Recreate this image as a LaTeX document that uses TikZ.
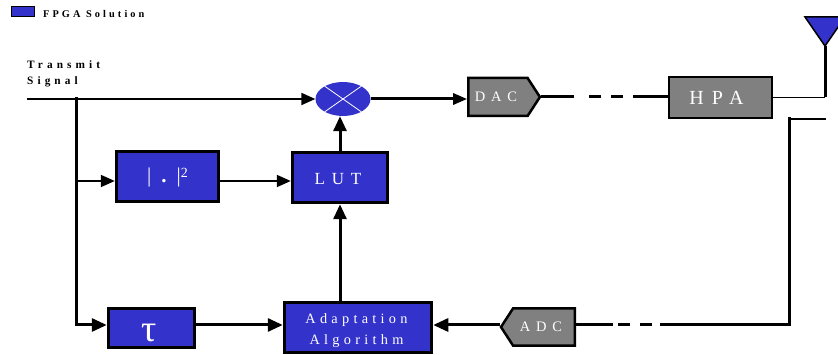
\documentclass[tikz,border=0pt]{standalone}
\usepackage{fontspec}
\setmainfont{Liberation Serif}
\newfontfamily\bigspaced[LetterSpace=40]{Liberation Serif}
\newfontfamily\midspaced[LetterSpace=30]{Liberation Serif}
\newfontfamily\labelspaced[LetterSpace=36]{Liberation Serif}
\usetikzlibrary{arrows.meta,shapes.geometric,shapes.symbols}
\definecolor{fpgablue}{HTML}{3333CC}
\definecolor{convgray}{HTML}{808080}
\tikzset{
  fpgabox/.style={draw=black, line width=3pt, fill=fpgablue, text=white, rectangle, inner sep=0pt, align=center},
  conv/.style={draw=black, line width=2.5pt, fill=convgray, text=white, inner sep=0pt},
  sig/.style={line width=3pt, -{Triangle[length=15pt,width=13pt]}},
  thinsig/.style={line width=2pt, -{Triangle[length=14pt,width=12pt]}},
  wire/.style={line width=3pt},
  toplabel/.style={font=\labelspaced\bfseries\fontsize{11.3pt}{16.5pt}\selectfont, anchor=north west, align=left, inner sep=0pt}
}
\begin{document}
\begin{tikzpicture}[x=1pt, y=-1pt]
  \clip (0,0) rectangle (838,355);

  % legend
  \node[fpgabox, line width=1pt, minimum width=23pt, minimum height=10pt] (legend) at (23,11.5) {};
  \node[anchor=west, inner sep=0pt, font=\midspaced\bfseries\fontsize{10.3pt}{12pt}\selectfont] (legendtext) at (43,14) {FPGA Solution};
  \node[toplabel] (txlabel) at (27,60) {Transmit\\Signal};

  % blocks
  \node[ellipse, fill=fpgablue, minimum width=55pt, minimum height=34pt, inner sep=0pt] (mix) at (343,99) {};
  \draw[white, line width=0.8pt] (mix.35) -- (mix.215);
  \draw[white, line width=0.8pt] (mix.145) -- (mix.325);

  \node[fpgabox, minimum width=102.5pt, minimum height=50pt, font=\fontsize{21pt}{22pt}\selectfont] (square) at (167.5,177) {|\hspace{10pt}\textbf{.}\hspace{10pt}|\raisebox{0.45ex}{\fontsize{14pt}{14pt}\selectfont 2}};
  \node[fpgabox, minimum width=95.5pt, minimum height=50.5pt, font=\bigspaced\fontsize{17pt}{22pt}\selectfont] (lut) at (340,177.5) {\rule{0pt}{15pt}LUT\kern4pt};
  \node[fpgabox, minimum width=86.5pt, minimum height=39.5pt, font=\fontsize{38pt}{40pt}\selectfont] (tau) at (151.5,328) {\rule{0pt}{28pt}τ\kern5pt};
  \node[fpgabox, minimum width=147.5pt, minimum height=50.5pt, font=\midspaced\fontsize{14.3pt}{21pt}\selectfont] (alg) at (358,327.5) {\rule{0pt}{16pt}Adaptation\kern3pt\\Algorithm\kern3pt};

  \node[conv, signal, signal to=east, signal pointer angle=114, minimum width=71.5pt, minimum height=38pt, font=\bigspaced\fontsize{14.5pt}{16pt}\selectfont] (dac) at (498,97) {DAC\kern4pt};
  \node[conv, signal, signal to=west, signal pointer angle=114, minimum width=74pt, minimum height=37pt, font=\bigspaced\fontsize{14.5pt}{16pt}\selectfont] (adc) at (544,327) {ADC\kern6pt};
  \node[conv, rectangle, minimum width=103pt, minimum height=41pt, font=\bigspaced\fontsize{20pt}{22pt}\selectfont] (hpa) at (720.5,97.5) {HPA\kern8pt};

  % antenna
  \coordinate (ant) at (825,46);
  \coordinate (antfoot) at (825,97.5);
  \draw[fill=fpgablue, line width=1.5pt, line join=miter] (805,17) -- (845,17) -- (ant) -- cycle;

  \coordinate (txin) at (27,99);
  \coordinate (split) at (76,99);
  \coordinate (tap) at (76,181);
  \coordinate (fb) at (76,325);
  \coordinate (rxtop) at (826,119);
  \coordinate (rxknee) at (789,119);
  \coordinate (rxlow) at (789,325);

  % connections
  \draw[thinsig] (txin) -- (mix.west);
  \draw[wire, line cap=rect] (split) -- (fb);
  \draw[thinsig] (tap) -- (tap -| square.west);
  \draw[thinsig] (square.east |- tap) -- (tap -| lut.west);
  \draw[sig] (fb) -- (fb -| tau.west);
  \draw[sig] (tau.east |- fb) -- (fb -| alg.west);
  \draw[sig] (alg.north -| lut) -- (lut.south);
  \draw[sig] (lut.north) -- (mix.south -| lut);
  \draw[sig, -{Triangle[length=14pt,width=11pt]}] (mix.east) -- (mix.east -| dac.west);
  \draw[wire, dash pattern=on 33pt off 15pt on 12pt off 10pt on 12pt off 10pt on 36pt] (dac.east) -- (dac.east -| hpa.west);
  \draw[line width=1.2pt] (hpa.east) -- (antfoot);
  \draw[wire] (ant) -- (antfoot);
  \draw[line width=1.5pt] (rxtop) -- (rxknee);
  \draw[wire, line cap=rect] (rxknee) -- (rxlow);
  \draw[wire, dash pattern=on 129pt off 8pt on 12pt off 10pt on 12pt off 5pt on 40pt] (rxlow) -- (rxlow -| adc.east);
  \draw[sig] (adc.west |- rxlow) -- (rxlow -| alg.east);
\end{tikzpicture}
\end{document}
